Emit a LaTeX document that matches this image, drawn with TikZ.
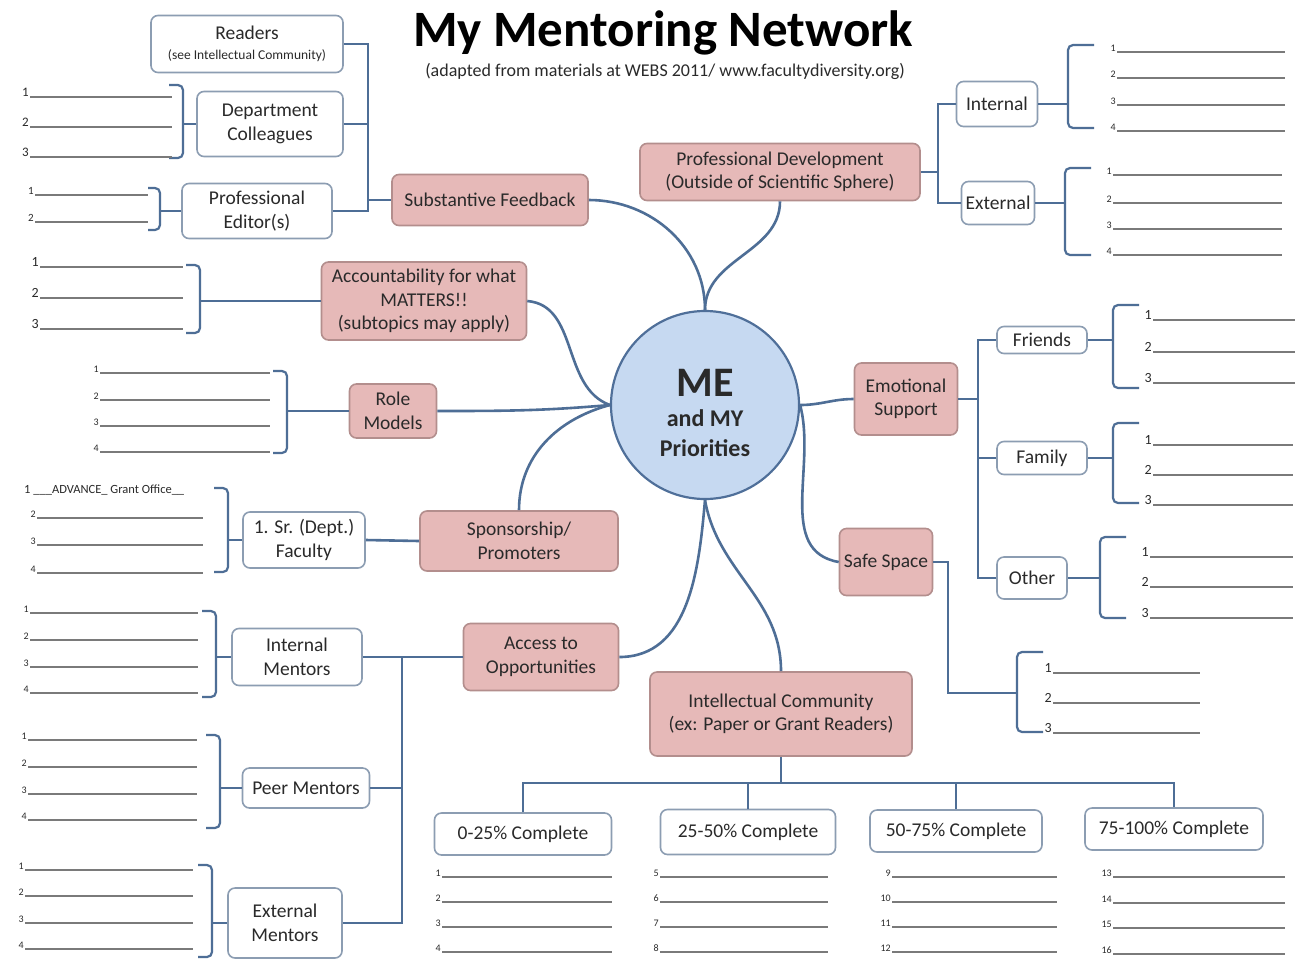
\documentclass[tikz,border=0pt]{standalone}
\usepackage{fontspec}
\setmainfont{Carlito}
\definecolor{conncol}{HTML}{4E6E96}
\definecolor{pinkfill}{HTML}{E6B9B8}
\definecolor{pinkdraw}{HTML}{B38E8D}
\definecolor{wdraw}{HTML}{8C9DB2}
\definecolor{mefill}{HTML}{C6D9F1}
\definecolor{medraw}{HTML}{4F6F99}
\definecolor{blankc}{HTML}{7A7A7A}
\definecolor{txt}{HTML}{2A2A2A}
\tikzset{
 pinkbox/.style={draw=pinkdraw, fill=pinkfill, rounded corners=7pt, line width=1.6pt, align=center, font=\fontsize{19.5}{23.5}\selectfont, text=txt, inner sep=2pt},
 wbox/.style={draw=wdraw, fill=white, rounded corners=7pt, line width=1.6pt, align=center, font=\fontsize{19.5}{23.5}\selectfont, text=txt, inner sep=2pt},
 conn/.style={draw=conncol, line width=2.6pt},
 brk/.style={draw=conncol, line width=2.2pt, rounded corners=5pt},
 blank/.style={draw=blankc, line width=1.4pt},
 numlab/.style={inner sep=0pt, anchor=base east, text=txt},
}
% #1 first number, #2 label size, #3 x start, #4 x end, #5 y list
\newcommand\blankset[5]{%
 \foreach \yy [count=\k from #1] in {#5} {
   \node[numlab, font=\fontsize{#2}{#2}\selectfont] at (#3-1,\yy-1) {\k};
   \draw[blank] (#3,\yy) -- (#4,\yy);
 }}
% brackets: #1 name, #2 x, #3 y top, #4 y bottom, #5 tip length
\newcommand\rbrk[5]{%
 \draw[brk] (#2-#5,#3) -- (#2,#3) -- (#2,#4) -- (#2-#5,#4);
 \coordinate (#1) at (#2,#3);}
\newcommand\lbrk[5]{%
 \draw[brk] (#2+#5,#3) -- (#2,#3) -- (#2,#4) -- (#2+#5,#4);
 \coordinate (#1) at (#2,#3);}
\begin{document}
\begin{tikzpicture}[x=1pt,y=-1pt]
\useasboundingbox (0,0) rectangle (1298,962);
\fill[white] (0,0) rectangle (1298,962);

% title
\node[font=\fontsize{51}{51}\selectfont\bfseries] (title) at (663,33) {My Mentoring Network};
\node[font=\fontsize{18}{18}\selectfont, text=txt] (sub) at (665,71) {(adapted from materials at WEBS 2011/ www.facultydiversity.org)};

% center
\node[circle, draw=medraw, fill=mefill, line width=2.2pt, minimum size=188, inner sep=0pt] (me) at (705,405) {};
\node[align=center, inner sep=0pt, text=txt, font=\fontsize{24}{30}\selectfont\bfseries] (metext) at (705,413)
 {{\fontsize{42}{42}\selectfont ME}\\and MY\\Priorities};

% pink nodes
\node[pinkbox, minimum width=196, minimum height=51] (sf) at (490,200) {Substantive Feedback};
\node[pinkbox, minimum width=280, minimum height=57] (pd) at (780,172) {Professional Development\\(Outside of Scientific Sphere)};
\node[pinkbox, minimum width=205, minimum height=78] (acc) at (424,301) {Accountability for what\\MATTERS!!\\(subtopics may apply)};
\node[pinkbox, minimum width=87, minimum height=54] (rm) at (393,411) {Role\\Models};
\node[pinkbox, minimum width=103, minimum height=72] (es) at (906,399) {Emotional\\Support};
\node[pinkbox, minimum width=198, minimum height=60] (sp) at (519,541) {Sponsorship/\\Promoters};
\node[pinkbox, minimum width=93, minimum height=67] (ss) at (886,562) {Safe Space};
\node[pinkbox, minimum width=155, minimum height=67] (ao) at (541,657) {Access to\\Opportunities};
\node[pinkbox, minimum width=262, minimum height=84] (ic) at (781,714) {Intellectual Community\\(ex: Paper or Grant Readers)};

% white nodes
\node[wbox, minimum width=192, minimum height=57] (rd) at (247,44) {Readers\\[-3pt]{\fontsize{13.5}{15}\selectfont (see Intellectual Community)}};
\node[wbox, minimum width=146, minimum height=65] (dc) at (270,124) {Department\\Colleagues};
\node[wbox, minimum width=150, minimum height=55] (pe) at (257,211) {Professional\\Editor(s)};
\node[wbox, minimum width=81, minimum height=45] (int) at (997,104) {Internal};
\node[wbox, minimum width=73, minimum height=43] (ext) at (998,203) {External};
\node[wbox, minimum width=90, minimum height=27] (fr) at (1042,340) {Friends};
\node[wbox, minimum width=90, minimum height=33] (fa) at (1042,458) {Family};
\node[wbox, minimum width=70, minimum height=42] (ot) at (1032,578) {Other};
\node[wbox, minimum width=122, minimum height=56] (sr) at (304,540) {1. Sr. (Dept.)\\Faculty};
\node[wbox, minimum width=130, minimum height=57] (im) at (297,657) {Internal\\Mentors};
\node[wbox, minimum width=127, minimum height=40] (pm) at (306,788) {Peer Mentors};
\node[wbox, minimum width=114, minimum height=70] (em) at (285,923) {External\\Mentors};
\node[wbox, minimum width=177, minimum height=42] (c1) at (523,834) {0-25\% Complete};
\node[wbox, minimum width=175, minimum height=45] (c2) at (748,832) {25-50\% Complete};
\node[wbox, minimum width=172, minimum height=42] (c3) at (956,831) {50-75\% Complete};
\node[wbox, minimum width=178, minimum height=42] (c4) at (1174,829) {75-100\% Complete};

% connectors to center
\draw[conn] (sf.east) to[out=0,in=90] (me.north);
\draw[conn] (pd.south) to[out=270,in=90] (me.north);
\draw[conn] (acc.east) to[out=-5,in=160] (me.west);
\draw[conn] (rm.east) to[out=0,in=185] (me.west);
\draw[conn] (sp.north) to[out=90,in=195] (me.west);
\draw[conn] (ao.east) to[out=0,in=265] (me.south);
\draw[conn] (ic.north) to[out=90,in=280] (me.south);
\draw[conn] (me.east) to[out=-75,in=170] (ss.west);
\draw[conn] (me.east) to[out=0,in=180] (es.west);

% substantive feedback tree
\coordinate (sfbus) at (368,200);
\draw[conn] (sf.west) -- (sfbus);
\draw[conn] (rd.east) -| (sfbus);
\draw[conn] (pe.east) -| (sfbus);
\draw[conn] (dc.east) -- (dc.east -| sfbus);
\rbrk{dcb}{183}{85}{158}{14}
\draw[conn] (dc.west) -- (dc.west -| dcb);
\blankset{1}{13}{30}{172}{97,127,157}
\rbrk{peb}{160}{188}{230}{12}
\draw[conn] (pe.west) -- (pe.west -| peb);
\blankset{1}{11}{35}{148}{195,222}

% accountability
\rbrk{accb}{200}{265}{333}{14}
\draw[conn] (acc.west) -- (acc.west -| accb);
\blankset{1}{14}{40}{183}{267,298,329}

% role models
\rbrk{rmb}{287}{371}{453}{14}
\draw[conn] (rm.west) -- (rm.west -| rmb);
\blankset{1}{10}{100}{270}{373,400,426,452}

% sponsorship
\draw[conn] (sp.west) -- (sr.east);
\rbrk{srb}{228}{488}{572}{14}
\draw[conn] (sr.west) -- (sr.west -| srb);
\node[anchor=base west, inner sep=0pt, font=\fontsize{12.5}{12.5}\selectfont, text=txt] (adv) at (24,493) {1 \_\_\_ADVANCE\_ Grant Office\_\_};
\blankset{2}{10}{37}{203}{518,545,573}

% access to opportunities
\coordinate (aobus) at (402,657);
\draw[conn] (ao.west) -- (aobus);
\draw[conn] (im.east) -- (im.east -| aobus);
\draw[conn] (pm.east) -- (pm.east -| aobus);
\draw[conn] (em.east) -| (aobus);
\rbrk{imb}{216}{611}{697}{14}
\draw[conn] (im.west) -- (im.west -| imb);
\blankset{1}{10}{30}{198}{613,640,667,693}
\rbrk{pmb}{220}{735}{828}{14}
\draw[conn] (pm.west) -- (pm.west -| pmb);
\blankset{1}{10}{28}{197}{740,767,794,820}
\rbrk{emb}{212}{865}{957}{14}
\draw[conn] (em.west) -- (em.west -| emb);
\blankset{1}{10}{25}{193}{870,896,923,949}

% professional development
\coordinate (pdbus) at (938,172);
\draw[conn] (pd.east) -- (pdbus);
\draw[conn] (int.west) -| (pdbus);
\draw[conn] (ext.west) -| (pdbus);
\lbrk{intb}{1068}{45}{128}{26}
\draw[conn] (int.east) -- (int.east -| intb);
\blankset{1}{10}{1117}{1285}{52,78,105,131}
\lbrk{extb}{1065}{168}{255}{26}
\draw[conn] (ext.east) -- (ext.east -| extb);
\blankset{1}{10}{1113}{1282}{175,203,229,255}

% emotional support
\coordinate (esbus) at (978,399);
\draw[conn] (es.east) -- (esbus);
\draw[conn] (fr.west) -| (esbus);
\draw[conn] (fa.west) -| (esbus);
\draw[conn] (ot.west) -| (esbus);
\lbrk{frb}{1113}{305}{388}{26}
\draw[conn] (fr.east) -- (fr.east -| frb);
\blankset{1}{14}{1153}{1295}{320,352,383}
\lbrk{fab}{1113}{423}{503}{26}
\draw[conn] (fa.east) -- (fa.east -| fab);
\blankset{1}{14}{1153}{1293}{445,475,505}
\lbrk{otb}{1100}{537}{618}{26}
\draw[conn] (ot.east) -- (ot.east -| otb);
\blankset{1}{14}{1150}{1293}{557,587,618}

% safe space
\coordinate (ssturn) at (948,693);
\lbrk{ssb}{1017}{652}{732}{26}
\draw[conn] (ss.east) -| (ssturn) -- (ssturn -| ssb);
\blankset{1}{14}{1053}{1200}{673,703,733}

% intellectual community
\coordinate (icbus) at (781,783);
\draw[conn] (ic.south) -- (icbus);
\draw[conn] (c1.north) |- (icbus) -| (c4.north);
\draw[conn] (c2.north) -- (c2.north |- icbus);
\draw[conn] (c3.north) -- (c3.north |- icbus);
\blankset{1}{10}{442}{612}{877,902,927,952}
\blankset{5}{10}{660}{828}{877,902,927,952}
\blankset{9}{10}{892}{1057}{877,902,927,952}
\blankset{13}{10}{1113}{1285}{877,903,928,954}
\end{tikzpicture}
\end{document}
